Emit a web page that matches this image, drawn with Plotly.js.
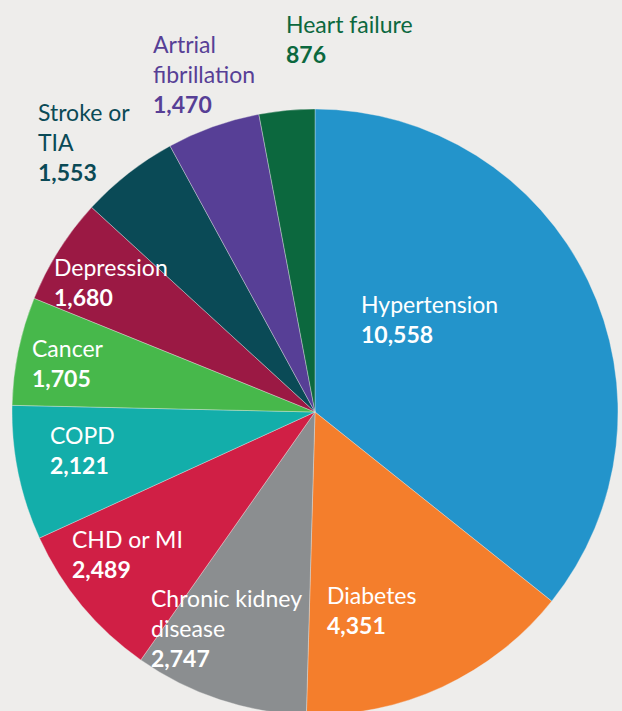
<!DOCTYPE html>
<html>
<head>
<meta charset="utf-8">
<script src="https://cdn.plot.ly/plotly-3.0.1.min.js"></script>
<style>
html,body{margin:0;padding:0;background:#eeedeb;overflow:hidden;}
#chart{width:622px;height:716px;}
</style>
</head>
<body>
<div id="chart"></div>
<script>
// Data
const categories = ["Hypertension","Diabetes","Chronic kidney disease","CHD or MI","COPD","Cancer","Depression","Stroke or TIA","Artrial fibrillation","Heart failure"];
const values = [10558,4351,2747,2489,2121,1705,1680,1553,1470,876];
const labelLines = [["Hypertension"],["Diabetes"],["Chronic kidney","disease"],["CHD or MI"],["COPD"],["Cancer"],["Depression"],["Stroke or","TIA"],["Artrial","fibrillation"],["Heart failure"]];

// Styles
const colors = ["#2394cb","#f47e2c","#8b8e90","#d01f45","#13aeaa","#47b84b","#9b1944","#0a4a56","#573f96","#0c683e"];
const labelColors = ["#ffffff","#ffffff","#ffffff","#ffffff","#ffffff","#ffffff","#ffffff","#0a4a56","#573f96","#0c683e"];
// label placement (pixel: left x, first baseline y)
const labelPos = [[360,312],[326,603],[150,606],[71,547],[49,443],[31,356],[53,275],[37,120],[152,52],[285,32]];

const W = 622, H = 716;
const cx = 315, cy = 412, R = 303;
const fs = 23;

function fmt(v){ return v.toLocaleString('en-US'); }

const annotations = categories.map((c,i)=>{
  const [px,py] = labelPos[i];
  const txt = labelLines[i].join('<br>') + '<br><b>' + fmt(values[i]) + '</b>';
  return {
    xref:'paper', yref:'paper',
    x: px/W, y: 1 - (py - fs*0.98)/H,
    xanchor:'left', yanchor:'top', align:'left',
    text: txt, showarrow:false,
    font:{family:'Lato, sans-serif', size:fs, color:labelColors[i]},
    borderpad:0
  };
});

const trace = {
  type:'pie',
  labels: categories,
  values: values,
  sort:false,
  direction:'clockwise',
  rotation:0,
  textinfo:'none',
  hoverinfo:'none',
  marker:{colors:colors, line:{color:'rgba(238,237,235,0.6)', width:0.6}},
  domain:{x:[(cx-R)/W,(cx+R)/W], y:[1-(cy+R)/H, 1-(cy-R)/H]},
  showlegend:false
};

Plotly.newPlot('chart',[trace],{
  width:W, height:H,
  margin:{l:0,r:0,t:0,b:0},
  paper_bgcolor:'#eeedeb', plot_bgcolor:'#eeedeb',
  showlegend:false,
  annotations: annotations
},{staticPlot:true});
</script>
</body>
</html>
